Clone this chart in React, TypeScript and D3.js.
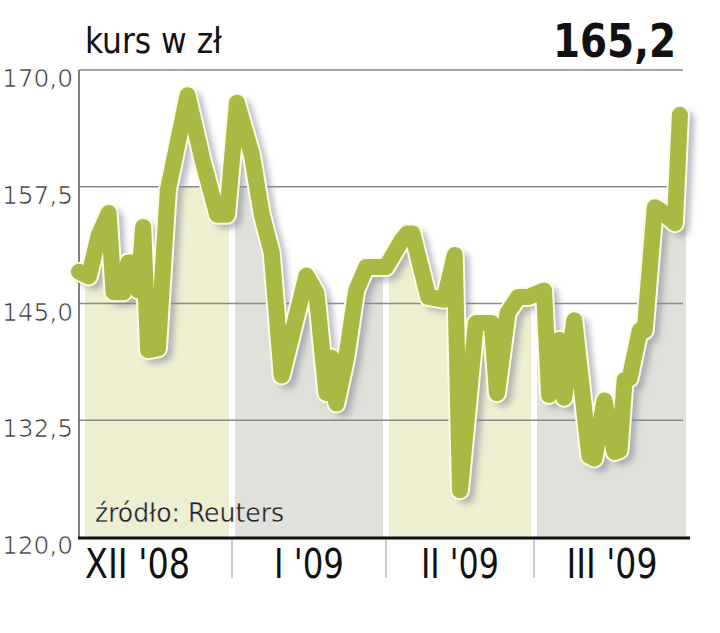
import * as d3 from "d3";

// kurs akcji, XII 2008 - III 2009
const dates = [
  "2008-12-01", "2008-12-03", "2008-12-05", "2008-12-07", "2008-12-08", "2008-12-10",
  "2008-12-11", "2008-12-12", "2008-12-13", "2008-12-14", "2008-12-15", "2008-12-17",
  "2008-12-19", "2008-12-23", "2008-12-26", "2008-12-29", "2008-12-31",
  "2009-01-02", "2009-01-05", "2009-01-07", "2009-01-09", "2009-01-11", "2009-01-16",
  "2009-01-18", "2009-01-20", "2009-01-21", "2009-01-22", "2009-01-24", "2009-01-26",
  "2009-01-28",
  "2009-02-01", "2009-02-04", "2009-02-05", "2009-02-06", "2009-02-09", "2009-02-12",
  "2009-02-14", "2009-02-15", "2009-02-18", "2009-02-21", "2009-02-22", "2009-02-24",
  "2009-02-26", "2009-02-28",
  "2009-03-03", "2009-03-04", "2009-03-06", "2009-03-07", "2009-03-09", "2009-03-12",
  "2009-03-13", "2009-03-15", "2009-03-17", "2009-03-18", "2009-03-19", "2009-03-20",
  "2009-03-22", "2009-03-23", "2009-03-25", "2009-03-26", "2009-03-29", "2009-03-30",
];
const kurs = [
  148.4, 147.9, 152.3, 154.7, 146.2, 146.2,
  149.4, 149.4, 146.4, 153.2, 140.0, 140.2,
  157.1, 167.3, 160.4, 154.5, 154.5,
  166.5, 160.9, 154.5, 150.4, 137.3, 148.0,
  146.1, 135.4, 139.2, 134.3, 139.2, 146.4,
  148.9,
  148.9, 151.8, 152.5, 152.5, 145.7, 145.4,
  150.2, 125.0, 142.9, 142.9, 135.4, 144.0,
  145.7, 145.7,
  146.4, 135.2, 141.1, 134.9, 143.2, 128.7,
  128.4, 134.6, 129.1, 129.3, 136.8, 137.0,
  142.1, 142.1, 155.3, 155.0, 153.6, 165.2,
];

const yTicks = [120, 132.5, 145, 157.5, 170];
const monthStarts = ["2008-12-01", "2009-01-01", "2009-02-01", "2009-03-01", "2009-04-01"];
const monthLabels = ["XII '08", "I '09", "II '09", "III '09"];
const bandColors = ["#eeeed0", "#e0e1da", "#eeeed0", "#e0e1da"];
const bandCap = 157.5;

const font = "'Liberation Sans Narrow', 'Arial Narrow', 'DejaVu Sans Condensed', 'Liberation Sans', Arial, sans-serif";
const lineColor = "#a9b944";

const parse = d3.timeParse("%Y-%m-%d");
const fmt = (v: number) => d3.format(".1f")(v).replace(".", ",");

export default function App() {
  const width = 720;
  const height = 633;

  const monthDates = monthStarts.map(s => parse(s) as Date);
  const x = d3.scaleTime()
    .domain(monthDates)
    .range([79, 232, 386, 534, 690]);
  const y = d3.scaleLinear().domain([120, 170]).range([537, 70]);

  const pts = dates.map((d, i) => ({ date: parse(d) as Date, v: kurs[i] }));

  const line = d3.line<{ date: Date; v: number }>()
    .x(d => x(d.date))
    .y(d => y(d.v));
  const area = d3.area<{ date: Date; v: number }>()
    .x(d => x(d.date))
    .y0(y(120))
    .y1(d => y(d.v));

  const linePath = line(pts) ?? "";
  const last = kurs[kurs.length - 1];
  const lastX = x(pts[pts.length - 1].date);

  return (
    <svg width={width} height={height}
      style={{ position: "absolute", left: 0, top: 0, background: "#fff" }}>
      <defs>
        <clipPath id="underLine">
          <path d={area(pts) ?? ""} />
          {/* band tail to the right of the last quote */}
          <rect x={lastX} y={y(last) + 110} width={12} height={y(120) - y(last) - 110} />
        </clipPath>
        <filter id="shadow" x="-10%" y="-10%" width="120%" height="120%">
          <feGaussianBlur stdDeviation="3" />
        </filter>
      </defs>

      {/* month bands, visible only under the line */}
      <g clipPath="url(#underLine)">
        {monthLabels.map((_, i) => {
          const x0 = x(monthDates[i]) + (i === 0 ? 6 : 3);
          const x1 = x(monthDates[i + 1]) - (i === monthLabels.length - 1 ? 4 : 3);
          return (
            <rect key={i} x={x0} y={y(bandCap)} width={x1 - x0}
              height={y(120) - y(bandCap)} fill={bandColors[i]} />
          );
        })}
      </g>

      {/* gridlines */}
      {yTicks.filter(t => t > 120).map(t => (
        <line key={t} x1={79} x2={683} y1={y(t)} y2={y(t)}
          stroke="#8a8a8a" strokeWidth={1.5} />
      ))}
      <line x1={79} x2={79} y1={y(170)} y2={y(120)} stroke="#555" strokeWidth={1.5} />

      {/* y labels */}
      {yTicks.map(t => (
        <text key={t} x={73} y={y(t) + 17} textAnchor="end"
          fontFamily={font} fontSize={24} fill="#333" stroke="#fff" strokeWidth={0.7}
          textLength={71} lengthAdjust="spacingAndGlyphs">{fmt(t)}</text>
      ))}

      {/* line: shadow, outline, stroke */}
      <path d={linePath} transform="translate(6,5)" fill="none" stroke="#7d8294"
        strokeOpacity={0.55} strokeWidth={17} strokeLinejoin="round" strokeLinecap="round"
        filter="url(#shadow)" />
      <path d={linePath} fill="none" stroke="#fdfbe6" strokeWidth={20}
        strokeLinejoin="round" strokeLinecap="round" />
      <path d={linePath} fill="none" stroke={lineColor} strokeWidth={16}
        strokeLinejoin="round" strokeLinecap="round" />

      {/* source */}
      <text x={95} y={522} fontFamily={font} fontSize={26} fill="#222"
        stroke="#fff" strokeWidth={0.3}
        textLength={189} lengthAdjust="spacingAndGlyphs">źródło: Reuters</text>

      {/* x axis */}
      <line x1={78} x2={690} y1={y(120) + 1} y2={y(120) + 1} stroke="#111" strokeWidth={3} />
      {monthDates.slice(1, 4).map((d, i) => (
        <line key={i} x1={x(d)} x2={x(d)} y1={y(120) + 3} y2={578}
          stroke="#999" strokeWidth={1} />
      ))}
      {monthLabels.map((m, i) => {
        const mid = (x(monthDates[i]) + x(monthDates[i + 1])) / 2;
        const widths = [105, 70, 78, 91];
        return (
          <text key={m} x={i === 0 ? 85 : mid} y={578}
            textAnchor={i === 0 ? "start" : "middle"}
            fontFamily={font} fontSize={41} fill="#111"
            textLength={widths[i]} lengthAdjust="spacingAndGlyphs">{m}</text>
        );
      })}

      {/* titles */}
      <text x={85} y={53} fontFamily={font} fontSize={35} fill="#111"
        textLength={137} lengthAdjust="spacingAndGlyphs">kurs w zł</text>
      <text x={676} y={57} textAnchor="end" fontFamily={font} fontSize={47}
        fontWeight="bold" fill="#111"
        textLength={123} lengthAdjust="spacingAndGlyphs">{fmt(last)}</text>
    </svg>
  );
}
